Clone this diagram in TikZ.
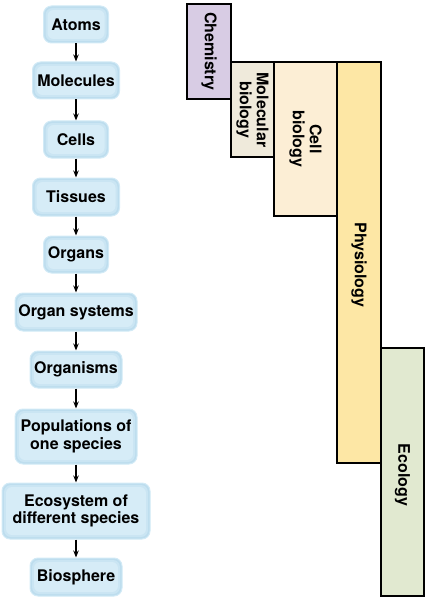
\documentclass[tikz,border=0pt]{standalone}
\usepackage{fontspec}
\setmainfont{TeX Gyre Heros}
\usetikzlibrary{arrows.meta}
\definecolor{boxout}{HTML}{BDDDEE}
\definecolor{boxmid}{HTML}{CAE5F3}
\definecolor{boxin}{HTML}{D6ECF7}
\definecolor{boxdraw}{HTML}{D2EAF6}
\definecolor{chemc}{HTML}{D8CCE4}
\definecolor{molc}{HTML}{EFEADB}
\definecolor{cellc}{HTML}{FCEED5}
\definecolor{physc}{HTML}{FDE7A5}
\definecolor{ecoc}{HTML}{E1E9D0}
\tikzset{
  lvl/.style={draw=boxdraw, line width=1pt, fill=boxout, rounded corners=8pt,
    font=\fontsize{16}{17.5}\selectfont\bfseries, align=center, inner sep=0pt,
    path picture={
      \fill[boxmid, rounded corners=7pt] ([shift={(2pt,-2pt)}]path picture bounding box.north west) rectangle ([shift={(-2pt,2pt)}]path picture bounding box.south east);
      \fill[boxin, rounded corners=6pt] ([shift={(4pt,-4pt)}]path picture bounding box.north west) rectangle ([shift={(-4pt,4pt)}]path picture bounding box.south east);
    }},
  lvlarrow/.style={-{Stealth[length=7pt,width=5.5pt]}, line width=1.4pt},
  field/.style={draw=black, line width=1.4pt},
  fieldtext/.style={font=\fontsize{16}{17}\selectfont\bfseries, align=center, rotate=-90}
}
\begin{document}
\begin{tikzpicture}[x=1pt,y=-1pt]
\useasboundingbox (0,0) rectangle (428,599);
% left column
\node[lvl, minimum width=65pt, minimum height=37pt] (atoms) at (76,24.5) {Atoms};
\node[lvl, minimum width=87pt, minimum height=37pt] (mol) at (76,80.5) {Molecules};
\node[lvl, minimum width=65pt, minimum height=37pt] (cells) at (76,139.5) {Cells};
\node[lvl, minimum width=87pt, minimum height=38pt] (tis) at (76,197) {Tissues};
\node[lvl, minimum width=65pt, minimum height=37pt] (org) at (76,254.5) {Organs};
\node[lvl, minimum width=122pt, minimum height=38pt] (orgsys) at (76,312) {Organ systems};
\node[lvl, minimum width=92pt, minimum height=37pt] (orgm) at (76,369.5) {Organisms};
\node[lvl, minimum width=122pt, minimum height=55pt] (pop) at (76,436.5) {Populations of\\one species};
\node[lvl, minimum width=148pt, minimum height=56pt] (eco) at (76,511) {Ecosystem of\\different species};
\node[lvl, minimum width=92pt, minimum height=38pt] (bio) at (76,577) {Biosphere};
\foreach \a/\b in {atoms/mol, mol/cells, cells/tis, tis/org, org/orgsys, orgsys/orgm, orgm/pop, pop/eco, eco/bio}
  \draw[lvlarrow] (\a.south) -- (\b.north);
% right fields
\draw[field, fill=chemc] (187,4) rectangle (231,99);
\draw[field, fill=molc] (231,62) rectangle (274,157);
\draw[field, fill=cellc] (274,62) rectangle (337,216);
\draw[field, fill=physc] (337,62) rectangle (381,463);
\draw[field, fill=ecoc] (381,348) rectangle (424,596);
\node[fieldtext] (tchem) at (209,51.5) {Chemistry};
\node[fieldtext] (tmol) at (252.5,110) {Molecular\\biology};
\node[fieldtext] (tcell) at (305.5,139) {Cell\\biology};
\node[fieldtext] (tphys) at (359,265) {Physiology};
\node[fieldtext] (teco) at (402.5,475) {Ecology};
\end{tikzpicture}
\end{document}
